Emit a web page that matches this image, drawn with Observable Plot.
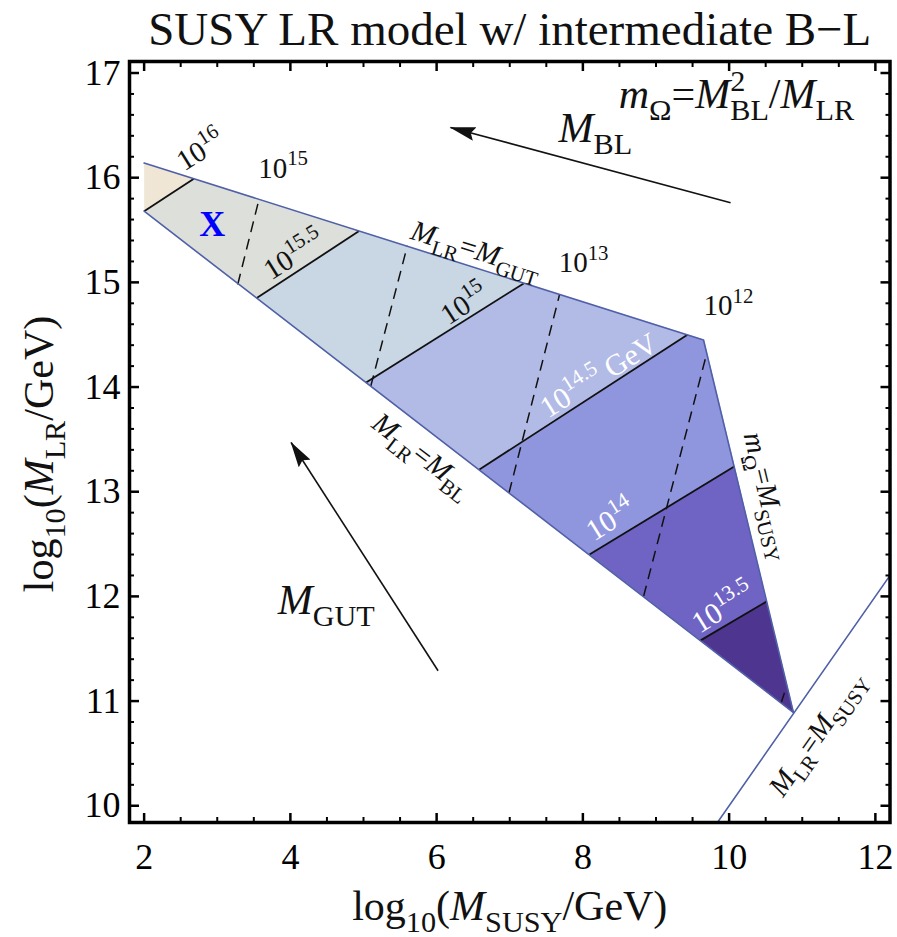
<!DOCTYPE html>
<html><head><meta charset="utf-8">
<script src="https://cdn.jsdelivr.net/npm/d3@7"></script>
<script src="https://cdn.jsdelivr.net/npm/@observablehq/plot@0.6"></script>
<style>
html,body{margin:0;padding:0;background:#fff;}
#chart{width:897px;height:937px;}
svg, svg text{font-family:"Liberation Serif","Times New Roman",serif;}
</style></head><body><div id="chart"></div>
<script>
// ---------------- data (log10 GeV units) ----------------
const titleText = ["SUSY LR model w/ intermediate B\u2212L"];
const xLabel = ["log_{10}(*M*_{SUSY}/GeV)"];
const yLabel = ["log_{10}(*M*_{LR}/GeV)"];

const xMajor = [2, 4, 6, 8, 10, 12];
const xMinor = [2.5, 3, 3.5, 4.5, 5, 5.5, 6.5, 7, 7.5, 8.5, 9, 9.5, 10.5, 11, 11.5];
const yMajor = [10, 11, 12, 13, 14, 15, 16, 17];
const yMinor = d3.range(10, 17.01, 0.2).map(v => +v.toFixed(1)).filter(v => !Number.isInteger(v));

// allowed-region corners: A (upper-left), C (upper-right), D (tip), B (lower-left)
const cornerA = [2.00, 16.14];
const cornerC = [9.65, 14.45];
const cornerD = [10.88, 10.89];
const cornerB = [2.00, 15.68];

// M_GUT contours (solid): start on M_LR=M_BL, end on M_LR=M_GUT / m_Omega=M_SUSY
const gutLevels = ["16", "15.5", "15", "14.5", "14", "13.5"];
const gutStart = [[2.00, 15.68], [3.54, 14.85], [5.03, 14.04], [6.58, 13.21], [8.09, 12.40], [9.61, 11.58]];
const gutEnd   = [[2.68, 15.99], [4.94, 15.49], [7.19, 14.99], [9.43, 14.50], [10.07, 13.24], [10.51, 11.95]];

// M_BL contours (dashed)
const blLevels = ["15", "14", "13", "12", "11"];
const blStart = [[3.28, 14.98], [5.10, 14.01], [6.99, 12.99], [8.83, 12.00], [10.71, 10.98]];
const blEnd   = [[3.57, 15.79], [5.60, 15.35], [7.68, 14.88], [9.69, 14.31], [10.78, 11.13]];

// band colours, from the 10^16 corner to the 10^13.5 tip
const bandColors = ["#efe6d6", "#dcdfda", "#c8d7e3", "#b2bae6", "#8f96de", "#6f64c4", "#4e3690"];

// M_LR = M_SUSY diagonal
const diagEnds = [9.84, 12.2];

// arrows: [tailX, tailY, headX, headY]
const arrowBL = [10.02, 15.76, 6.19, 16.48];
const arrowGUT = [6.02, 11.29, 4.01, 13.47];

// annotation labels
const darkLabels = [
  {s: "10^{16}", x: 2.77, y: 16.26, a: -32},
  {s: "10^{15}", x: 3.90, y: 16.09, a: 0},
  {s: "10^{15.5}", x: 4.05, y: 15.26, a: -32},
  {s: "*M*_{LR}=*M*_{GUT}", x: 6.54, y: 15.31, a: 17.5},
  {s: "10^{15}", x: 6.38, y: 14.79, a: -33},
  {s: "10^{13}", x: 8.01, y: 15.19, a: 0},
  {s: "10^{12}", x: 9.99, y: 14.78, a: 0},
  {s: "*M*_{LR}=*M*_{BL}", x: 5.81, y: 13.35, a: 37.6},
  {s: "*m*_{\u03a9}=*M*_{SUSY}", x: 10.53, y: 12.96, a: 76.4},
  {s: "*M*_{LR}=*M*_{SUSY}", x: 11.20, y: 10.69, a: -55}
];
const whiteLabels = [
  {s: "10^{14.5} GeV", x: 8.22, y: 14.11, a: -32},
  {s: "10^{14}", x: 8.38, y: 12.73, a: -32},
  {s: "10^{13.5}", x: 9.92, y: 11.89, a: -32}
];
const bigLabels = [
  {s: "*M*_{BL}", x: 8.17, y: 16.47},
  {s: "*M*_{GUT}", x: 4.49, y: 11.96},
  {s: "*m*_{\u03a9}=*M*^_{2}{BL}/*M*_{LR}", x: 10.10, y: 16.79}
];
const markerX = [{s: "X", x: 2.93, y: 15.55}];

// ---------------- build tables ----------------
const bandPolys = [
  [cornerA, gutEnd[0], gutStart[0]],
  [gutEnd[0], gutEnd[1], gutStart[1], gutStart[0]],
  [gutEnd[1], gutEnd[2], gutStart[2], gutStart[1]],
  [gutEnd[2], gutEnd[3], gutStart[3], gutStart[2]],
  [gutEnd[3], cornerC, gutEnd[4], gutStart[4], gutStart[3]],
  [gutEnd[4], gutEnd[5], gutStart[5], gutStart[4]],
  [gutEnd[5], cornerD, gutStart[5]]
];
const bandRows = bandPolys.flatMap((poly, i) => poly.map(p => ({band: i, color: bandColors[i], x: p[0], y: p[1]})));
const outline = [cornerA, cornerC, cornerD, cornerB].map(p => ({x: p[0], y: p[1]}));
const gutRows = gutLevels.map((l, i) => ({l, x1: gutStart[i][0], y1: gutStart[i][1], x2: gutEnd[i][0], y2: gutEnd[i][1]}));
const blRows = blLevels.map((l, i) => ({l, x1: blStart[i][0], y1: blStart[i][1], x2: blEnd[i][0], y2: blEnd[i][1]}));
const diagRows = diagEnds.map(v => ({x: v, y: v}));
const arrowRows = [arrowBL, arrowGUT].map(a => ({x1: a[0], y1: a[1], x2: a[2], y2: a[3]}));

const FRAME_L = 129, FRAME_R = 889.5, FRAME_T = 61, FRAME_B = 822;
const SERIF = "'Liberation Serif', 'Times New Roman', serif";
const ARROW_COLOR = "#121212";

const plot = Plot.plot({
  width: 897, height: 937,
  marginLeft: FRAME_L, marginRight: 897 - FRAME_R, marginTop: FRAME_T, marginBottom: 937 - FRAME_B,
  style: {background: "#fff", color: "#000", fontFamily: SERIF, overflow: "visible"},
  x: {domain: [1.8, 12.2]},
  y: {domain: [9.84, 17.11]},
  marks: [
    Plot.line(bandRows, {x: "x", y: "y", z: "band", fill: "color", stroke: "color", strokeWidth: 0.6}),
    Plot.link(gutRows, {x1: "x1", y1: "y1", x2: "x2", y2: "y2", stroke: "#111", strokeWidth: 1.8}),
    Plot.link(blRows, {x1: "x1", y1: "y1", x2: "x2", y2: "y2", stroke: "#111", strokeWidth: 1.5, strokeDasharray: "11,7"}),
    Plot.line(outline, {x: "x", y: "y", stroke: "#5060a8", strokeWidth: 1.6}),
    Plot.line(diagRows, {x: "x", y: "y", stroke: "#5060a8", strokeWidth: 1.6, clip: true}),
    Plot.link(arrowRows, {x1: "x1", y1: "y1", x2: "x2", y2: "y2", stroke: ARROW_COLOR, strokeWidth: 1.6}),
    Plot.text(darkLabels, {x: "x", y: "y", text: "s", rotate: "a", fontSize: 29, fill: "#111", fontFamily: SERIF}),
    Plot.text(whiteLabels, {x: "x", y: "y", text: "s", rotate: "a", fontSize: 30, fill: "#fff", fontFamily: SERIF}),
    Plot.text(bigLabels, {x: "x", y: "y", text: "s", fontSize: 42, fill: "#111", fontFamily: SERIF}),
    Plot.text(markerX, {x: "x", y: "y", text: "s", fontSize: 36, fontWeight: "bold", fill: "#0000ff", fontFamily: SERIF}),
    Plot.frame({stroke: "#000", strokeWidth: 3.5}),
    // ticks (inward, Mathematica-style) on all four sides
    Plot.axisX(xMajor, {anchor: "bottom", tickSize: -9, tickPadding: 30, strokeWidth: 2.5, fontSize: 36, fontFamily: SERIF, label: null, tickFormat: d => String(d)}),
    Plot.axisX(xMinor, {anchor: "bottom", tickSize: -5, strokeWidth: 2, label: null, tickFormat: () => ""}),
    Plot.axisX(xMajor, {anchor: "top", tickSize: -9, strokeWidth: 2.5, label: null, tickFormat: () => ""}),
    Plot.axisX(xMinor, {anchor: "top", tickSize: -5, strokeWidth: 2, label: null, tickFormat: () => ""}),
    Plot.axisY(yMajor, {anchor: "left", tickSize: -10, tickPadding: 19, strokeWidth: 2.5, fontSize: 36, fontFamily: SERIF, label: null, tickFormat: d => String(d)}),
    Plot.axisY(yMinor, {anchor: "left", tickSize: -5, strokeWidth: 2, label: null, tickFormat: () => ""}),
    Plot.axisY(yMajor, {anchor: "right", tickSize: -10, strokeWidth: 2.5, label: null, tickFormat: () => ""}),
    Plot.axisY(yMinor, {anchor: "right", tickSize: -5, strokeWidth: 2, label: null, tickFormat: () => ""}),
    // titles
    Plot.text(titleText, {text: d => d, frameAnchor: "top", dy: -32, lineAnchor: "middle", textAnchor: "middle", fontSize: 47, fill: "#111", fontFamily: SERIF}),
    Plot.text(xLabel, {text: d => d, frameAnchor: "bottom", dy: 84, lineAnchor: "middle", textAnchor: "middle", fontSize: 42, fill: "#111", fontFamily: SERIF}),
    Plot.text(yLabel, {text: d => d, frameAnchor: "left", dx: -90, dy: 12, rotate: -90, lineAnchor: "middle", textAnchor: "middle", fontSize: 42, fill: "#111", fontFamily: SERIF})
  ]
});
document.getElementById("chart").appendChild(plot);

// ---------- rich text (italic, sub/superscripts) ----------
function parseRich(s) {
  const out = []; let i = 0, ital = false, buf = "";
  const flush = () => { if (buf) { out.push({t: buf, italic: ital, shift: null}); buf = ""; } };
  while (i < s.length) {
    const c = s[i];
    if (c === "*") { flush(); ital = !ital; i++; }
    else if (s.startsWith("^_{", i)) {
      flush();
      const j = s.indexOf("}", i); const sup = s.slice(i + 3, j);
      const k = s.indexOf("}", j + 2); const sub = s.slice(j + 2, k);
      out.push({t: sup, shift: "sup"}); out.push({t: sub, shift: "sub", back: sup});
      i = k + 1;
    } else if ((c === "_" || c === "^") && s[i + 1] === "{") {
      flush();
      const j = s.indexOf("}", i);
      out.push({t: s.slice(i + 2, j), shift: c === "_" ? "sub" : "sup"});
      i = j + 1;
    } else { buf += c; i++; }
  }
  flush(); return out;
}
function renderRich(el, markup, fs) {
  const segs = parseRich(markup);
  while (el.firstChild) el.removeChild(el.firstChild);
  let cur = 0;
  const SUB = 0.28 * fs, SUP = -0.42 * fs, SMALL = 0.72;
  segs.forEach(seg => {
    const t = document.createElementNS("http://www.w3.org/2000/svg", "tspan");
    t.textContent = seg.t;
    const target = seg.shift === "sub" ? SUB : seg.shift === "sup" ? SUP : 0;
    const dy = target - cur;
    if (dy) t.setAttribute("dy", dy.toFixed(2));
    cur = target;
    if (seg.shift) t.setAttribute("font-size", (fs * SMALL).toFixed(2));
    if (seg.italic) t.setAttribute("font-style", "italic");
    if (seg.back) t.setAttribute("dx", (-seg.back.length * 0.5 * fs * SMALL).toFixed(2));
    el.appendChild(t);
  });
}
plot.querySelectorAll("text").forEach(el => {
  const s = el.textContent;
  if (/(\^\{|_\{|\^_\{|\*)/.test(s)) {
    const fs = parseFloat(getComputedStyle(el).fontSize);
    renderRich(el, s, fs);
  }
});

// filled arrowheads
const svgNS = "http://www.w3.org/2000/svg";
const defs = document.createElementNS(svgNS, "defs");
defs.innerHTML = '<marker id="ahead" viewBox="0 0 26 14" refX="25" refY="7" markerWidth="26" markerHeight="14" markerUnits="userSpaceOnUse" orient="auto"><path d="M0,0 L26,7 L0,14 L4,7 Z" fill="#111"/></marker>';
plot.insertBefore(defs, plot.firstChild);
plot.querySelectorAll("g").forEach(g => {
  if ((g.getAttribute("stroke") || "").toLowerCase() === ARROW_COLOR) {
    g.querySelectorAll("path, line").forEach(p => p.setAttribute("marker-end", "url(#ahead)"));
  }
});
</script>
</body></html>
